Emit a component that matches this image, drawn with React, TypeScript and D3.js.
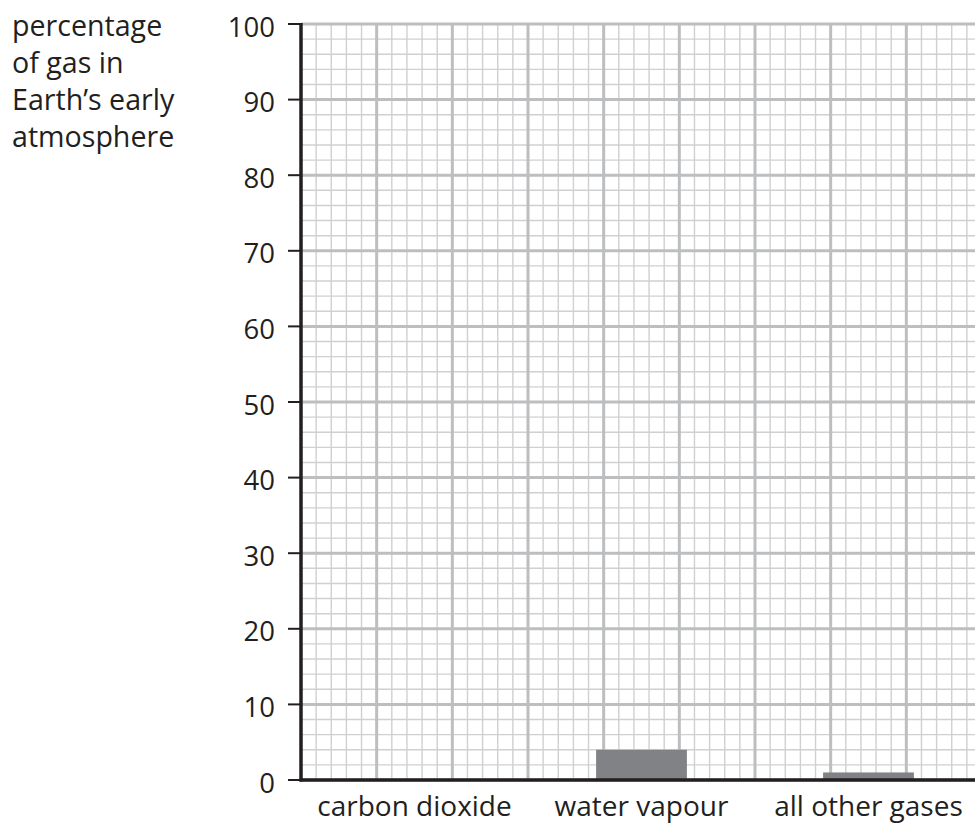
import { useMemo } from 'react';
import * as d3 from 'd3';

const categories = ['carbon dioxide', 'water vapour', 'all other gases'];
const values = [0, 4, 1];
const yTicks = [0, 10, 20, 30, 40, 50, 60, 70, 80, 90, 100];
const titleLines = ['percentage', 'of gas in', 'Earth\u2019s early', 'atmosphere'];

const W = 975;
const H = 825;
const FONT = '"Open Sans", "Noto Sans", sans-serif';
const INK = '#231f20';

export default function App() {
  const left = 301;
  const right = 982;
  const top = 24;
  const bottom = 780;

  const y = useMemo(() => d3.scaleLinear().domain([0, 100]).range([bottom, top]), []);
  // graph paper runs in the same units as y: 90 units across
  const gx = useMemo(() => d3.scaleLinear().domain([0, 90]).range([left, right]), []);
  const x = useMemo(
    () => d3.scaleBand<string>().domain(categories).range([left, right]).paddingInner(0.6).paddingOuter(0.3),
    []
  );

  const minorY = d3.range(0, 101, 2).filter(v => v % 10 !== 0);
  const majorY = d3.range(0, 101, 10);
  const minorX = d3.range(0, 91, 2).filter(v => v % 10 !== 0);
  const majorX = d3.range(10, 91, 10);

  return (
    <svg width={W} height={H} style={{ position: 'absolute', left: 0, top: 0, display: 'block', background: '#fff' }}>
      {/* minor grid */}
      <g stroke="#cfd0d2" strokeWidth={1.4}>
        {minorY.map(v => (
          <line key={'my' + v} x1={left} x2={right} y1={y(v)} y2={y(v)} />
        ))}
        {minorX.map(v => (
          <line key={'mx' + v} x1={gx(v)} x2={gx(v)} y1={top} y2={bottom} />
        ))}
      </g>
      {/* major grid */}
      <g stroke="#bcbec0" strokeWidth={3}>
        {majorY.map(v => (
          <line key={'My' + v} x1={left} x2={right} y1={y(v)} y2={y(v)} />
        ))}
        {majorX.map(v => (
          <line key={'Mx' + v} x1={gx(v)} x2={gx(v)} y1={top} y2={bottom} />
        ))}
      </g>

      {/* bars */}
      {categories.map((c, i) => (
        values[i] > 0 ? (
          <rect
            key={c}
            x={x(c)}
            y={y(values[i])}
            width={x.bandwidth()}
            height={bottom - y(values[i])}
            fill="#808285"
          />
        ) : null
      ))}

      {/* axes */}
      <line x1={left} x2={left} y1={top - 1} y2={bottom + 1.5} stroke={INK} strokeWidth={3.5} />
      <line x1={left - 1.5} x2={right} y1={bottom} y2={bottom} stroke={INK} strokeWidth={3.5} />

      {/* y ticks */}
      <g fontFamily={FONT} fontSize={27.5} fill={INK}>
        {yTicks.map(t => (
          <g key={t}>
            <line x1={left - 13} x2={left} y1={y(t)} y2={y(t)} stroke={INK} strokeWidth={2} />
            <text x={275} y={y(t) + 12.5} textAnchor="end">{t}</text>
          </g>
        ))}
      </g>

      {/* category labels */}
      <g fontFamily={FONT} fontSize={28} fill={INK} textAnchor="middle">
        {categories.map(c => (
          <text key={c} x={(x(c) ?? 0) + x.bandwidth() / 2} y={816}>{c}</text>
        ))}
      </g>

      {/* y title */}
      <g fontFamily={FONT} fontSize={28.6} fill={INK}>
        {titleLines.map((l, i) => (
          <text key={l} x={12} y={36 + i * 37}>{l}</text>
        ))}
      </g>
    </svg>
  );
}
